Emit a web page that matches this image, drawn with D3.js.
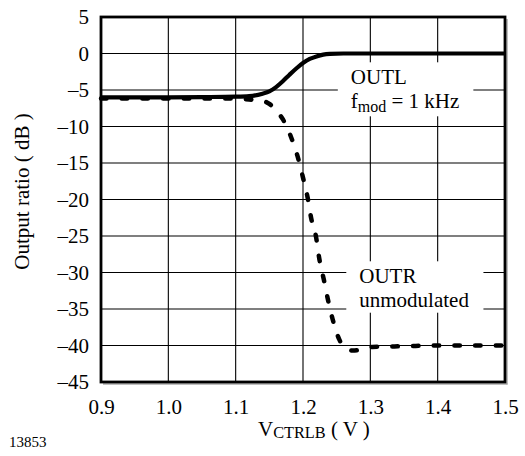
<!DOCTYPE html>
<html>
<head>
<meta charset="utf-8">
<script src="https://cdn.jsdelivr.net/npm/d3@7/dist/d3.min.js"></script>
<style>
  html, body { margin: 0; padding: 0; background: #fff; }
  svg { display: block; }
  text { font-family: "Liberation Serif", "Times New Roman", serif; fill: #000; }
</style>
</head>
<body>
<svg id="chart" width="525" height="456"></svg>
<script>
// ---- data ----
const xTicks = [0.9, 1.0, 1.1, 1.2, 1.3, 1.4, 1.5];
const yTicks = [5, 0, -5, -10, -15, -20, -25, -30, -35, -40, -45];

const voltsL = [0.9, 1.0, 1.05, 1.1, 1.12, 1.14, 1.15, 1.16, 1.17, 1.18, 1.19, 1.2, 1.21, 1.22, 1.23, 1.24, 1.26, 1.3, 1.4, 1.5];
const outL   = [-6.0, -6.0, -5.97, -5.92, -5.85, -5.5, -5.2, -4.6, -3.8, -2.9, -2.05, -1.3, -0.75, -0.4, -0.15, -0.05, 0, 0, 0, 0];

const voltsR = [0.9, 1.0, 1.1, 1.12, 1.14, 1.15, 1.16, 1.17, 1.1825, 1.192, 1.2, 1.207, 1.212, 1.2195, 1.224, 1.231, 1.237, 1.244, 1.254, 1.264, 1.274, 1.29, 1.303, 1.35, 1.4, 1.45, 1.5];
const outR   = [-6.15, -6.15, -6.15, -6.3, -6.5, -6.9, -7.8, -9.0, -11.5, -14.1, -17.0, -19.8, -22.5, -25.2, -28.0, -31.0, -33.7, -36.4, -39.2, -40.4, -40.7, -40.5, -40.2, -40.1, -40.0, -40.0, -40.0];

const labelL = { x: 1.271, y: -4.22, lines: ["OUTL", "fmod"] };
const labelR = { x: 1.2836, y: -31.48, lines: ["OUTR", "unmodulated"] };

// ---- layout ----
const svg = d3.select("#chart");
const pLeft = 101, pRight = 505, pTop = 17, pBottom = 382;
const x = d3.scaleLinear().domain([0.9, 1.5]).range([pLeft, pRight]);
const y = d3.scaleLinear().domain([-45, 5]).range([pBottom, pTop]);
const FS = 21;

// gridlines
const grid = svg.append("g");
grid.selectAll("line.v").data(xTicks).join("line")
  .attr("x1", d => x(d)).attr("x2", d => x(d))
  .attr("y1", pTop).attr("y2", pBottom)
  .attr("stroke", "#000").attr("stroke-width", 1.1);
grid.selectAll("line.h").data(yTicks).join("line")
  .attr("y1", d => y(d)).attr("y2", d => y(d))
  .attr("x1", pLeft).attr("x2", pRight)
  .attr("stroke", "#000").attr("stroke-width", 1.1);

// axes labels via d3 axes
const yAxis = d3.axisLeft(y).tickValues(yTicks).tickSize(0).tickPadding(12)
  .tickFormat(d => d < 0 ? "\u2013" + Math.abs(d) : String(d));
const gy = svg.append("g").attr("transform", `translate(${pLeft},0)`).call(yAxis);
gy.attr("font-family", null).attr("font-size", null);
gy.select(".domain").remove();
gy.selectAll("text").style("font-size", FS + "px").attr("fill", "#000");

const xAxis = d3.axisBottom(x).tickValues(xTicks).tickSize(0).tickPadding(17)
  .tickFormat(d3.format(".1f"));
const gx = svg.append("g").attr("transform", `translate(0,${pBottom})`).call(xAxis);
gx.attr("font-family", null).attr("font-size", null);
gx.select(".domain").remove();
gx.selectAll("text").style("font-size", FS + "px").attr("fill", "#000");

// annotation labels with white background
function label(cfg, second) {
  const g = svg.append("g");
  const bg = g.append("rect").attr("fill", "#fff");
  const t = g.append("text").style("font-size", FS + "px");
  t.append("tspan").attr("x", x(cfg.x)).attr("y", y(cfg.y)).text(cfg.lines[0]);
  if (second === "fmod") {
    const t2 = g.append("text").style("font-size", FS + "px")
      .attr("x", x(cfg.x)).attr("y", y(cfg.y) + 24);
    t2.append("tspan").text("f");
    t2.append("tspan").attr("dy", 4).style("font-size", "16px").text("mod");
    t2.append("tspan").attr("dy", -4).text(" = 1 kHz");
  } else {
    t.append("tspan").attr("x", x(cfg.x)).attr("y", y(cfg.y) + 23.4).text(cfg.lines[1]);
  }
  const bb = g.node().getBBox();
  bg.attr("x", bb.x - 13).attr("y", bb.y - 3)
    .attr("width", bb.width + 27).attr("height", bb.height + 4);
}
label(labelL, "fmod");
label(labelR, null);

// curves
const line = d3.line().x(d => x(d[0])).y(d => y(d[1])).curve(d3.curveMonotoneX);
svg.append("path")
  .attr("d", line(d3.zip(voltsR, outR)))
  .attr("fill", "none").attr("stroke", "#000").attr("stroke-width", 4.5)
  .attr("stroke-linecap", "round").attr("stroke-dasharray", "5.5 15.2");
svg.append("path")
  .attr("d", line(d3.zip(voltsL, outL)))
  .attr("fill", "none").attr("stroke", "#000").attr("stroke-width", 4.2)
  .attr("stroke-linecap", "butt");

// frame with faint shadow
svg.append("line").attr("x1", pRight + 2).attr("x2", pRight + 2).attr("y1", pTop + 2).attr("y2", pBottom + 2.5)
  .attr("stroke", "#aaa").attr("stroke-width", 1.5);
svg.append("line").attr("x1", pLeft + 2).attr("x2", pRight + 2.5).attr("y1", pBottom + 2).attr("y2", pBottom + 2)
  .attr("stroke", "#aaa").attr("stroke-width", 1.5);
svg.append("rect").attr("x", pLeft).attr("y", pTop)
  .attr("width", pRight - pLeft).attr("height", pBottom - pTop)
  .attr("fill", "none").attr("stroke", "#000").attr("stroke-width", 2.8);

// axis titles
svg.append("text")
  .attr("transform", `translate(29,${(pTop + pBottom) / 2 - 8}) rotate(-90)`)
  .attr("text-anchor", "middle").style("font-size", FS + "px")
  .text("Output ratio ( dB )");

const xt = svg.append("text").attr("x", 258).attr("y", 436).style("font-size", FS + "px");
xt.append("tspan").text("V");
xt.append("tspan").attr("dy", 2).style("font-size", "16.3px").text("CTRLB");
xt.append("tspan").attr("dy", -2).text(" ( V )");

svg.append("text").attr("x", 9).attr("y", 447).style("font-size", "15px").text("13853");
</script>
</body>
</html>
